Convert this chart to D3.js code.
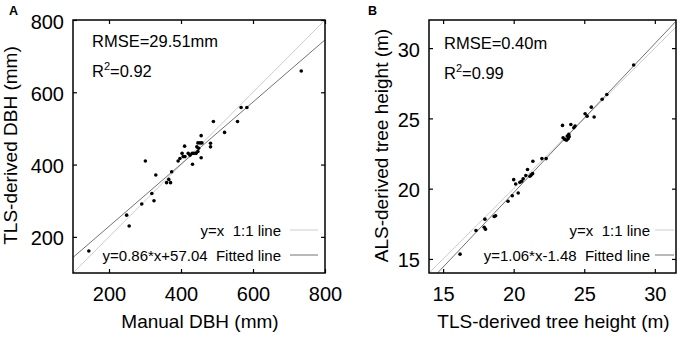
<!DOCTYPE html>
<html>
<head>
<meta charset="utf-8">
<script src="https://cdn.jsdelivr.net/npm/d3@7"></script>
<style>
body { margin: 0; background: #fff; }
text { font-family: "Liberation Sans", Arial, sans-serif; fill: #000; }
</style>
</head>
<body>
<svg width="686" height="338"></svg>
<script>
// panel A: DBH, manual vs TLS (mm)
var manualDbh = [144, 249, 256, 291, 319, 325, 301, 330, 360, 371, 366, 374, 392, 397, 403, 406, 411, 410, 420, 425,
                 431, 436, 442, 447, 432, 444, 449, 447, 453, 458, 456, 456, 482, 482, 490, 521, 557, 567, 583, 734],
    tlsDbh    = [161, 260, 230, 291, 320, 300, 410, 371, 350, 350, 359, 380, 410, 417, 431, 422, 422, 451, 431, 426,
                 431, 431, 431, 436, 401, 449, 445, 460, 460, 460, 480, 419, 459, 449, 519, 489, 519, 558, 558, 659];

// panel B: tree height, TLS vs ALS (m)
var tlsHeight = [16.2, 17.33, 17.91, 18.0, 17.96, 18.62, 18.72, 19.6, 19.9, 20.32, 20.0, 20.14, 20.44, 20.56, 20.67,
                 20.86, 20.98, 21.15, 21.24, 21.34, 21.36, 22.0, 22.3, 23.46, 24.05, 24.26, 24.35, 23.9, 23.8, 23.93,
                 23.5, 23.62, 23.74, 23.86, 25.06, 25.2, 25.7, 25.5, 26.27, 26.6, 28.5],
    alsHeight = [15.34, 17.02, 17.26, 17.12, 17.83, 18.02, 18.07, 19.1, 19.5, 19.69, 20.64, 20.33, 20.45, 20.52, 20.7,
                 20.93, 21.36, 20.88, 20.98, 21.07, 21.95, 22.14, 22.14, 24.5, 24.57, 24.33, 24.45, 23.86, 23.74, 23.7,
                 23.62, 23.5, 23.45, 23.55, 25.33, 25.16, 25.1, 25.8, 26.36, 26.7, 28.8];

var dbhTicks    = [200, 400, 600, 800],
    heightTicks = [15, 20, 25, 30];

var svg = d3.select('svg');

function panel(o) {
    var x = d3.scaleLinear().domain(o.xDomain).range([o.left, o.right]),
        y = d3.scaleLinear().domain(o.yDomain).range([o.bottom, o.top]),
        g = svg.append('g');

    g.append('clipPath').attr('id', 'clip' + o.id)
        .append('rect')
        .attr('x', o.left).attr('y', o.top)
        .attr('width', o.right - o.left).attr('height', o.bottom - o.top);

    var plot = g.append('g').attr('clip-path', 'url(#clip' + o.id + ')'),
        d0 = o.xDomain[0], d1 = o.xDomain[1];

    // 1:1 line
    plot.append('line')
        .attr('x1', x(d0)).attr('y1', y(d0)).attr('x2', x(d1)).attr('y2', y(d1))
        .attr('stroke', '#cccccc').attr('stroke-width', 1);

    // fitted line
    plot.append('line')
        .attr('x1', x(d0)).attr('y1', y(o.slope * d0 + o.icpt))
        .attr('x2', x(d1)).attr('y2', y(o.slope * d1 + o.icpt))
        .attr('stroke', '#737373').attr('stroke-width', 1);

    plot.selectAll('circle')
        .data(d3.zip(o.xs, o.ys))
        .enter().append('circle')
        .attr('cx', function(d) { return x(d[0]); })
        .attr('cy', function(d) { return y(d[1]); })
        .attr('r', 1.8)
        .attr('fill', '#000');

    function tidy(sel) {
        sel.select('.domain').remove();
        sel.selectAll('line').attr('stroke', '#000').attr('stroke-width', 1.2);
        sel.selectAll('text').style('font-size', '20px').style('font-family', '"Liberation Sans", Arial, sans-serif');
    }

    g.append('g').attr('transform', 'translate(0,' + o.bottom + ')')
        .call(d3.axisBottom(x).tickValues(o.ticks).tickSize(-4).tickPadding(14))
        .call(tidy);
    g.append('g').attr('transform', 'translate(0,' + o.top + ')')
        .call(d3.axisTop(x).tickValues(o.ticks).tickSize(-4).tickFormat(''))
        .call(tidy);
    g.append('g').attr('transform', 'translate(' + o.left + ',0)')
        .call(d3.axisLeft(y).tickValues(o.ticks).tickSize(-4).tickPadding(9))
        .call(tidy)
        .selectAll('text').attr('dy', '0.4em');
    g.append('g').attr('transform', 'translate(' + o.right + ',0)')
        .call(d3.axisRight(y).tickValues(o.ticks).tickSize(-4).tickFormat(''))
        .call(tidy);

    g.append('rect')
        .attr('x', o.left).attr('y', o.top)
        .attr('width', o.right - o.left).attr('height', o.bottom - o.top)
        .attr('fill', 'none').attr('stroke', '#000').attr('stroke-width', 1.5);

    // axis titles
    g.append('text')
        .attr('x', (o.left + o.right) / 2 + 1).attr('y', 328)
        .attr('text-anchor', 'middle').style('font-size', '19px')
        .text(o.xTitle);
    g.append('text')
        .attr('transform', 'translate(' + o.yTitleX + ',' + ((o.top + o.bottom) / 2 - 1) + ') rotate(-90)')
        .attr('text-anchor', 'middle').style('font-size', '19px')
        .text(o.yTitle);

    // panel letter
    g.append('text')
        .attr('x', o.letterX).attr('y', 15)
        .style('font-size', '12.5px').style('font-weight', 'bold')
        .text(o.id);

    // stats
    g.append('text')
        .attr('x', o.left + o.statDx).attr('y', o.statY)
        .style('font-size', '16.5px')
        .text(o.rmse);
    var r2 = g.append('text')
        .attr('x', o.left + o.statDx).attr('y', o.statY + 30)
        .style('font-size', '16.5px');
    r2.append('tspan').text('R');
    r2.append('tspan').attr('dy', '-7').style('font-size', '11px').text('2');
    r2.append('tspan').attr('dy', '7').text(o.r2);

    // legend
    var rows = [
        { label: 'y=x  1:1 line', color: '#cccccc' },
        { label: o.fitLabel + '  Fitted line', color: '#737373' }
    ];
    rows.forEach(function(r, i) {
        var by = 236 + i * 25;
        g.append('text')
            .attr('x', o.legendEnd).attr('y', by)
            .attr('text-anchor', 'end')
            .style('font-size', '15px').style('white-space', 'pre')
            .text(r.label);
        g.append('line')
            .attr('x1', o.legendLine[0]).attr('x2', o.legendLine[1])
            .attr('y1', by - 6).attr('y2', by - 6)
            .attr('stroke', r.color).attr('stroke-width', 1);
    });
}

panel({
    id: 'A',
    xs: manualDbh, ys: tlsDbh,
    xDomain: [100, 800], yDomain: [100, 800], ticks: dbhTicks,
    left: 73, right: 325, top: 20, bottom: 273,
    slope: 0.86, icpt: 57.04,
    xTitle: 'Manual DBH (mm)', yTitle: 'TLS-derived DBH (mm)', yTitleX: 17,
    letterX: 9,
    rmse: 'RMSE=29.51mm', r2: '=0.92', statDx: 19, statY: 47,
    fitLabel: 'y=0.86*x+57.04',
    legendEnd: 281, legendLine: [290, 318]
});

panel({
    id: 'B',
    xs: tlsHeight, ys: alsHeight,
    xDomain: [14, 31.5], yDomain: [14, 32], ticks: heightTicks,
    left: 429, right: 676, top: 20, bottom: 273,
    slope: 1.06, icpt: -1.48,
    xTitle: 'TLS-derived tree height (m)', yTitle: 'ALS-derived tree height (m)', yTitleX: 388,
    letterX: 368,
    rmse: 'RMSE=0.40m', r2: '=0.99', statDx: 15, statY: 49,
    fitLabel: 'y=1.06*x-1.48',
    legendEnd: 650, legendLine: [655, 674]
});
</script>
</body>
</html>
